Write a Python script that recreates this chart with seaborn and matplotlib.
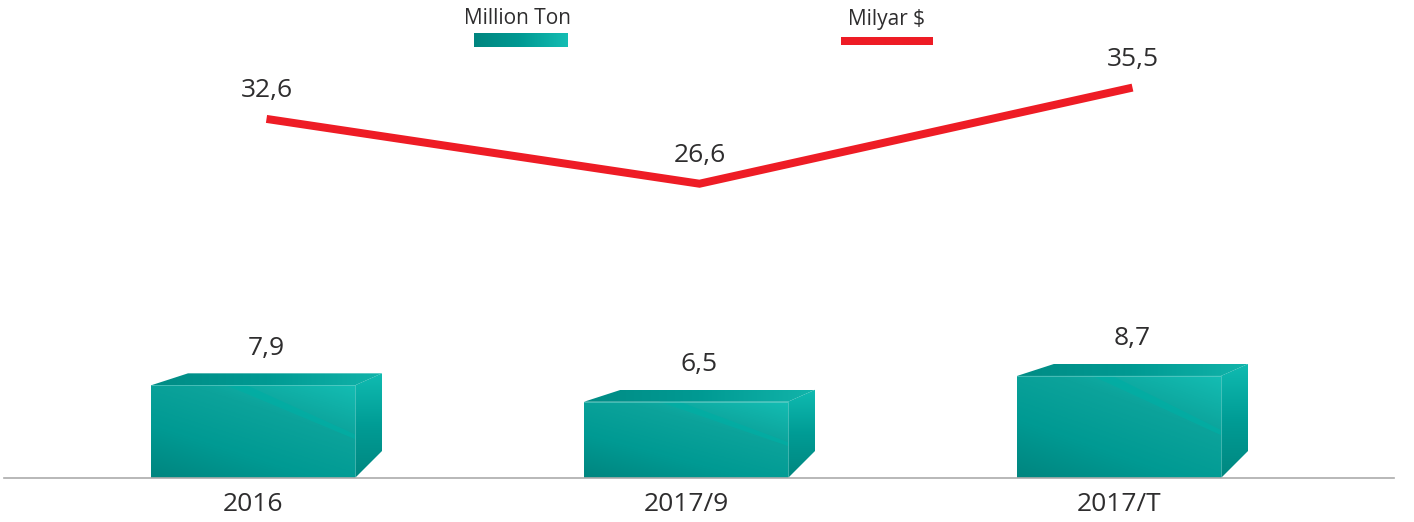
import numpy as np
import pandas as pd
import matplotlib
matplotlib.use("Agg")
import matplotlib.pyplot as plt
import seaborn as sns
from matplotlib.colors import LinearSegmentedColormap
from matplotlib.patches import Polygon

# ----------------------------------------------------------------------
# Data
# ----------------------------------------------------------------------
periods = ["2016", "2017/9", "2017/T"]
million_ton = [7.9, 6.5, 8.7]
milyar_usd = [32.6, 26.6, 35.5]

# ----------------------------------------------------------------------
# Look
# ----------------------------------------------------------------------
sns.set_theme(style="white")
plt.rcParams["font.family"] = ["Open Sans", "DejaVu Sans"]

TEXT = "#2E2D2E"
RED = "#EE1C25"
GREY = "#ABABAB"
FRONT = LinearSegmentedColormap.from_list("front", ["#00857F", "#009A93", "#0CA39B", "#14BDB3"])
SIDE = LinearSegmentedColormap.from_list("side", ["#008780", "#009C95", "#10BBB1"])
TOP = LinearSegmentedColormap.from_list("top", ["#008C85", "#009A93", "#12B4AA"])

W, H, DPI = 1414, 522, 100
PX_PER_CAT = 433.0
PX_PER_TON = 11.73
PX_PER_USD = 10.8
LABEL_SIZE = 19


def gradient_fill(ax, verts, cmap, angle):
    """Paint a polygon with a linear gradient (angle 0 = left to right, 90 = upwards)."""
    verts = np.asarray(verts)
    x0, y0 = verts.min(axis=0)
    x1, y1 = verts.max(axis=0)
    u, v = np.meshgrid(np.linspace(0, 1, 128), np.linspace(0, 1, 128))
    a = np.deg2rad(angle)
    g = u * np.cos(a) + v * np.sin(a)
    g = (g - g.min()) / (g.max() - g.min())
    im = ax.imshow(g, cmap=cmap, origin="lower", extent=(x0, x1, y0, y1),
                   aspect="auto", zorder=3, vmin=0, vmax=1)
    clip = Polygon(verts, closed=True, transform=ax.transData, fill=False, edgecolor="none")
    ax.add_patch(clip)
    im.set_clip_path(clip)


def swatch(fig, box, cmap):
    left, top, right, bottom = box
    sw = fig.add_axes([left / W, 1 - bottom / H, (right - left) / W, (bottom - top) / H])
    sw.imshow(np.linspace(0, 1, 128).reshape(1, -1), cmap=cmap, aspect="auto")
    sw.axis("off")


fig = plt.figure(figsize=(W / DPI, H / DPI), dpi=DPI)
ax = fig.add_axes([4 / W, 44 / H, 1390 / W, 478 / H])
ax.patch.set_alpha(0)

# ----------------------------------------------------------------------
# Bars: seaborn gives the front faces, the box is built around each one
# ----------------------------------------------------------------------
df = pd.DataFrame({"period": periods, "ton": million_ton})
sns.barplot(data=df, x="period", y="ton", ax=ax, width=204 / PX_PER_CAT,
            color="#009A93", saturation=1, zorder=2)

dx_right = 27 / PX_PER_CAT
dx_left = 37 / PX_PER_CAT
dy_top = 12 / PX_PER_TON
dy_bottom = 27 / PX_PER_TON

for bar, value in zip(ax.patches, million_ton):
    x0, x1 = bar.get_x(), bar.get_x() + bar.get_width()
    top = bar.get_height()

    gradient_fill(ax, [(x0, 0), (x1, 0), (x1, top), (x0, top)], FRONT, 55)
    gradient_fill(ax, [(x1, 0), (x1, top), (x1 + dx_right, top + dy_top),
                       (x1 + dx_right, dy_bottom)], SIDE, 90)
    gradient_fill(ax, [(x0, top), (x0 + dx_left, top + dy_top),
                       (x1 + dx_right, top + dy_top), (x1, top)], TOP, 0)

    # diagonal sheen across the front face
    w = x1 - x0
    ax.add_patch(Polygon([(x0 + 0.37 * w, top), (x0 + 0.47 * w, top), (x1, top * 0.47),
                          (x1, top * 0.42)], closed=True, facecolor="#00AEA4",
                         edgecolor="none", alpha=0.75, zorder=4))
    ax.plot([x0, x1, x1], [top, top, 0], color="#7FD6D0", lw=0.6, alpha=0.6, zorder=4)

    ax.annotate(f"{value:.1f}".replace(".", ","), ((x0 + x1) / 2 + dx_right / 2, top),
                xytext=(0, 37 * 72 / DPI), textcoords="offset points", ha="center",
                va="center", fontsize=LABEL_SIZE, color=TEXT, zorder=6)

ax.set_xlabel("")
ax.set_ylabel("")
ax.set_yticks([])
ax.tick_params(axis="x", length=0, labelsize=LABEL_SIZE, labelcolor=TEXT, pad=10)
sns.despine(ax=ax, left=True)
ax.spines["bottom"].set_color(GREY)
ax.spines["bottom"].set_linewidth(1.2)
ax.spines["bottom"].set_zorder(5)

# ----------------------------------------------------------------------
# Line on its own value axis
# ----------------------------------------------------------------------
ax2 = ax.twinx()
ax2.patch.set_alpha(0)
line_x = np.arange(len(periods)) + dx_right / 2
sns.lineplot(x=line_x, y=milyar_usd, ax=ax2, color=RED, linewidth=8 * 72 / DPI,
             solid_joinstyle="miter", solid_capstyle="butt", errorbar=None, zorder=5)
for x, value in zip(line_x, milyar_usd):
    ax2.annotate(f"{value:.1f}".replace(".", ","), (x, value),
                 xytext=(0, 28 * 72 / DPI), textcoords="offset points", ha="center",
                 va="center", fontsize=LABEL_SIZE, color=TEXT)
ax2.set_ylabel("")
ax2.set_yticks([])
for s in ax2.spines.values():
    s.set_visible(False)

ax.set_xlim((4 - 253) / PX_PER_CAT, (1394 - 253) / PX_PER_CAT)
ax.set_ylim(0, 478 / PX_PER_TON)
ax2.set_ylim((471 - 478) / PX_PER_USD, 471 / PX_PER_USD)

# ----------------------------------------------------------------------
# Legend, laid out by hand above the plot
# ----------------------------------------------------------------------
fig.text(518 / W, 1 - 19 / H, "Million Ton", ha="center", va="center", fontsize=15, color=TEXT)
fig.text(887 / W, 1 - 19 / H, "Milyar $", ha="center", va="center", fontsize=15, color=TEXT)
swatch(fig, (474, 33, 567, 47), LinearSegmentedColormap.from_list("leg", ["#00857F", "#009A93", "#14BDB3"]))
swatch(fig, (841, 37, 933, 45), LinearSegmentedColormap.from_list("red", [RED, RED]))

fig.savefig("out.png", dpi=DPI)
